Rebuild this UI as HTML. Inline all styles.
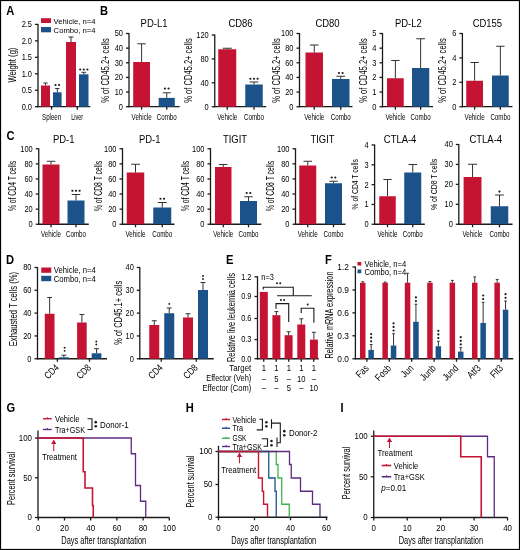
<!DOCTYPE html>
<html><head><meta charset="utf-8"><style>
html,body{margin:0;padding:0;background:#fff;width:520px;height:550px;overflow:hidden}
body{position:relative;font-family:"Liberation Sans", sans-serif}
svg text{font-family:"Liberation Sans", sans-serif}
svg{will-change:transform}
</style></head><body>
<svg width="520" height="550" viewBox="0 0 520 550" style="position:absolute;left:0;top:0" font-family="Liberation Sans, sans-serif">
<rect x="0" y="0" width="520" height="550" fill="#fff"/>
<text x="6.30" y="15.20" font-size="12" textLength="8.06" lengthAdjust="spacingAndGlyphs" font-weight="bold">A</text>
<line x1="38.00" y1="23.90" x2="38.00" y2="107.30" stroke="#1a1a1a" stroke-width="1.3"/>
<line x1="35.00" y1="106.70" x2="38.00" y2="106.70" stroke="#1a1a1a" stroke-width="1.3"/>
<text x="32.00" y="109.58" font-size="9.3" text-anchor="end" textLength="10.34" lengthAdjust="spacingAndGlyphs">0.0</text>
<line x1="35.00" y1="90.24" x2="38.00" y2="90.24" stroke="#1a1a1a" stroke-width="1.3"/>
<text x="32.00" y="93.12" font-size="9.3" text-anchor="end" textLength="10.34" lengthAdjust="spacingAndGlyphs">0.5</text>
<line x1="35.00" y1="73.78" x2="38.00" y2="73.78" stroke="#1a1a1a" stroke-width="1.3"/>
<text x="32.00" y="76.66" font-size="9.3" text-anchor="end" textLength="10.34" lengthAdjust="spacingAndGlyphs">1.0</text>
<line x1="35.00" y1="57.32" x2="38.00" y2="57.32" stroke="#1a1a1a" stroke-width="1.3"/>
<text x="32.00" y="60.20" font-size="9.3" text-anchor="end" textLength="10.34" lengthAdjust="spacingAndGlyphs">1.5</text>
<line x1="35.00" y1="40.86" x2="38.00" y2="40.86" stroke="#1a1a1a" stroke-width="1.3"/>
<text x="32.00" y="43.74" font-size="9.3" text-anchor="end" textLength="10.34" lengthAdjust="spacingAndGlyphs">2.0</text>
<line x1="35.00" y1="24.40" x2="38.00" y2="24.40" stroke="#1a1a1a" stroke-width="1.3"/>
<text x="32.00" y="27.28" font-size="9.3" text-anchor="end" textLength="10.34" lengthAdjust="spacingAndGlyphs">2.5</text>
<line x1="37.40" y1="106.70" x2="90.30" y2="106.70" stroke="#1a1a1a" stroke-width="1.3"/>
<line x1="51.60" y1="106.70" x2="51.60" y2="109.70" stroke="#1a1a1a" stroke-width="1.3"/>
<line x1="77.30" y1="106.70" x2="77.30" y2="109.70" stroke="#1a1a1a" stroke-width="1.3"/>
<rect x="41.00" y="85.50" width="9.00" height="21.20" fill="#c51433"/>
<line x1="45.50" y1="83.00" x2="45.50" y2="85.50" stroke="#333" stroke-width="1.0"/>
<line x1="43.25" y1="83.00" x2="47.75" y2="83.00" stroke="#333" stroke-width="1.0"/>
<rect x="53.00" y="92.30" width="8.60" height="14.40" fill="#1a5289"/>
<line x1="57.30" y1="88.50" x2="57.30" y2="92.30" stroke="#333" stroke-width="1.0"/>
<line x1="55.15" y1="88.50" x2="59.45" y2="88.50" stroke="#333" stroke-width="1.0"/>
<rect x="66.00" y="42.00" width="10.00" height="64.70" fill="#c51433"/>
<line x1="71.00" y1="37.00" x2="71.00" y2="42.00" stroke="#333" stroke-width="1.0"/>
<line x1="68.50" y1="37.00" x2="73.50" y2="37.00" stroke="#333" stroke-width="1.0"/>
<rect x="79.00" y="74.30" width="9.50" height="32.40" fill="#1a5289"/>
<line x1="83.75" y1="72.30" x2="83.75" y2="74.30" stroke="#333" stroke-width="1.0"/>
<line x1="81.38" y1="72.30" x2="86.12" y2="72.30" stroke="#333" stroke-width="1.0"/>
<circle cx="55.50" cy="85.00" r="1.10" fill="#1a1a1a"/>
<circle cx="59.10" cy="85.00" r="1.10" fill="#1a1a1a"/>
<circle cx="80.20" cy="69.50" r="1.10" fill="#1a1a1a"/>
<circle cx="83.80" cy="69.50" r="1.10" fill="#1a1a1a"/>
<circle cx="87.40" cy="69.50" r="1.10" fill="#1a1a1a"/>
<rect x="41.00" y="18.20" width="10.00" height="4.80" fill="#c51433"/>
<rect x="41.00" y="27.00" width="10.00" height="5.30" fill="#1a5289"/>
<text x="53.60" y="23.60" font-size="8" textLength="42.00" lengthAdjust="spacingAndGlyphs">Vehicle, n=4</text>
<text x="53.60" y="32.60" font-size="8" textLength="42.00" lengthAdjust="spacingAndGlyphs">Combo, n=4</text>
<text x="51.60" y="119.50" font-size="8.7" text-anchor="middle" textLength="19.00" lengthAdjust="spacingAndGlyphs">Spleen</text>
<text x="77.20" y="119.50" font-size="8.7" text-anchor="middle" textLength="12.00" lengthAdjust="spacingAndGlyphs">Liver</text>
<text transform="rotate(-90 15.82 65.10)" x="15.82" y="65.10" font-size="10.2" text-anchor="middle" textLength="35.00" lengthAdjust="spacingAndGlyphs">Weight (g)</text>
<text x="100.00" y="15.20" font-size="12" textLength="8.06" lengthAdjust="spacingAndGlyphs" font-weight="bold">B</text>
<line x1="129.00" y1="33.00" x2="129.00" y2="107.30" stroke="#1a1a1a" stroke-width="1.3"/>
<line x1="126.00" y1="106.70" x2="129.00" y2="106.70" stroke="#1a1a1a" stroke-width="1.3"/>
<text x="123.00" y="109.58" font-size="9.3" text-anchor="end" textLength="4.14" lengthAdjust="spacingAndGlyphs">0</text>
<line x1="126.00" y1="92.06" x2="129.00" y2="92.06" stroke="#1a1a1a" stroke-width="1.3"/>
<text x="123.00" y="94.94" font-size="9.3" text-anchor="end" textLength="8.27" lengthAdjust="spacingAndGlyphs">10</text>
<line x1="126.00" y1="77.42" x2="129.00" y2="77.42" stroke="#1a1a1a" stroke-width="1.3"/>
<text x="123.00" y="80.30" font-size="9.3" text-anchor="end" textLength="8.27" lengthAdjust="spacingAndGlyphs">20</text>
<line x1="126.00" y1="62.78" x2="129.00" y2="62.78" stroke="#1a1a1a" stroke-width="1.3"/>
<text x="123.00" y="65.66" font-size="9.3" text-anchor="end" textLength="8.27" lengthAdjust="spacingAndGlyphs">30</text>
<line x1="126.00" y1="48.14" x2="129.00" y2="48.14" stroke="#1a1a1a" stroke-width="1.3"/>
<text x="123.00" y="51.02" font-size="9.3" text-anchor="end" textLength="8.27" lengthAdjust="spacingAndGlyphs">40</text>
<line x1="126.00" y1="33.50" x2="129.00" y2="33.50" stroke="#1a1a1a" stroke-width="1.3"/>
<text x="123.00" y="36.38" font-size="9.3" text-anchor="end" textLength="8.27" lengthAdjust="spacingAndGlyphs">50</text>
<line x1="128.40" y1="106.70" x2="179.60" y2="106.70" stroke="#1a1a1a" stroke-width="1.3"/>
<line x1="141.60" y1="106.70" x2="141.60" y2="109.70" stroke="#1a1a1a" stroke-width="1.3"/>
<line x1="166.75" y1="106.70" x2="166.75" y2="109.70" stroke="#1a1a1a" stroke-width="1.3"/>
<rect x="133.20" y="62.00" width="16.80" height="44.70" fill="#c51433"/>
<line x1="141.60" y1="43.80" x2="141.60" y2="62.00" stroke="#333" stroke-width="1.0"/>
<line x1="137.40" y1="43.80" x2="145.80" y2="43.80" stroke="#333" stroke-width="1.0"/>
<rect x="158.70" y="97.90" width="16.10" height="8.80" fill="#1a5289"/>
<line x1="166.75" y1="92.80" x2="166.75" y2="97.90" stroke="#333" stroke-width="1.0"/>
<line x1="162.72" y1="92.80" x2="170.78" y2="92.80" stroke="#333" stroke-width="1.0"/>
<circle cx="164.95" cy="88.50" r="1.10" fill="#1a1a1a"/>
<circle cx="168.55" cy="88.50" r="1.10" fill="#1a1a1a"/>
<text x="141.60" y="119.50" font-size="8.7" text-anchor="middle" textLength="20.00" lengthAdjust="spacingAndGlyphs">Vehicle</text>
<text x="166.75" y="119.50" font-size="8.7" text-anchor="middle" textLength="20.00" lengthAdjust="spacingAndGlyphs">Combo</text>
<text x="154.00" y="27.00" font-size="11" text-anchor="middle" textLength="26.81" lengthAdjust="spacingAndGlyphs">PD-L1</text>
<text transform="rotate(-90 109.43 70.50)" x="109.43" y="70.50" font-size="10.5" text-anchor="middle" textLength="64.50" lengthAdjust="spacingAndGlyphs">% of CD45.2+ cells</text>
<line x1="214.75" y1="34.50" x2="214.75" y2="107.30" stroke="#1a1a1a" stroke-width="1.3"/>
<line x1="211.75" y1="106.70" x2="214.75" y2="106.70" stroke="#1a1a1a" stroke-width="1.3"/>
<text x="208.75" y="109.58" font-size="9.3" text-anchor="end" textLength="4.14" lengthAdjust="spacingAndGlyphs">0</text>
<line x1="211.75" y1="82.80" x2="214.75" y2="82.80" stroke="#1a1a1a" stroke-width="1.3"/>
<text x="208.75" y="85.68" font-size="9.3" text-anchor="end" textLength="8.27" lengthAdjust="spacingAndGlyphs">40</text>
<line x1="211.75" y1="58.90" x2="214.75" y2="58.90" stroke="#1a1a1a" stroke-width="1.3"/>
<text x="208.75" y="61.78" font-size="9.3" text-anchor="end" textLength="8.27" lengthAdjust="spacingAndGlyphs">80</text>
<line x1="211.75" y1="35.00" x2="214.75" y2="35.00" stroke="#1a1a1a" stroke-width="1.3"/>
<text x="208.75" y="37.88" font-size="9.3" text-anchor="end" textLength="12.41" lengthAdjust="spacingAndGlyphs">120</text>
<line x1="214.15" y1="106.70" x2="266.25" y2="106.70" stroke="#1a1a1a" stroke-width="1.3"/>
<line x1="227.25" y1="106.70" x2="227.25" y2="109.70" stroke="#1a1a1a" stroke-width="1.3"/>
<line x1="254.00" y1="106.70" x2="254.00" y2="109.70" stroke="#1a1a1a" stroke-width="1.3"/>
<rect x="218.25" y="49.25" width="18.00" height="57.45" fill="#c51433"/>
<line x1="227.25" y1="48.25" x2="227.25" y2="49.25" stroke="#333" stroke-width="1.0"/>
<line x1="222.75" y1="48.25" x2="231.75" y2="48.25" stroke="#333" stroke-width="1.0"/>
<rect x="245.25" y="84.50" width="17.50" height="22.20" fill="#1a5289"/>
<line x1="254.00" y1="82.00" x2="254.00" y2="84.50" stroke="#333" stroke-width="1.0"/>
<line x1="249.62" y1="82.00" x2="258.38" y2="82.00" stroke="#333" stroke-width="1.0"/>
<circle cx="250.40" cy="78.75" r="1.10" fill="#1a1a1a"/>
<circle cx="254.00" cy="78.75" r="1.10" fill="#1a1a1a"/>
<circle cx="257.60" cy="78.75" r="1.10" fill="#1a1a1a"/>
<text x="227.25" y="119.50" font-size="8.7" text-anchor="middle" textLength="20.00" lengthAdjust="spacingAndGlyphs">Vehicle</text>
<text x="254.00" y="119.50" font-size="8.7" text-anchor="middle" textLength="20.00" lengthAdjust="spacingAndGlyphs">Combo</text>
<text x="240.50" y="27.00" font-size="11" text-anchor="middle" textLength="24.19" lengthAdjust="spacingAndGlyphs">CD86</text>
<text transform="rotate(-90 191.98 70.50)" x="191.98" y="70.50" font-size="10.5" text-anchor="middle" textLength="64.50" lengthAdjust="spacingAndGlyphs">% of CD45.2+ cells</text>
<line x1="299.50" y1="33.00" x2="299.50" y2="107.30" stroke="#1a1a1a" stroke-width="1.3"/>
<line x1="296.50" y1="106.70" x2="299.50" y2="106.70" stroke="#1a1a1a" stroke-width="1.3"/>
<text x="293.50" y="109.58" font-size="9.3" text-anchor="end" textLength="4.14" lengthAdjust="spacingAndGlyphs">0</text>
<line x1="296.50" y1="92.06" x2="299.50" y2="92.06" stroke="#1a1a1a" stroke-width="1.3"/>
<text x="293.50" y="94.94" font-size="9.3" text-anchor="end" textLength="8.27" lengthAdjust="spacingAndGlyphs">20</text>
<line x1="296.50" y1="77.42" x2="299.50" y2="77.42" stroke="#1a1a1a" stroke-width="1.3"/>
<text x="293.50" y="80.30" font-size="9.3" text-anchor="end" textLength="8.27" lengthAdjust="spacingAndGlyphs">40</text>
<line x1="296.50" y1="62.78" x2="299.50" y2="62.78" stroke="#1a1a1a" stroke-width="1.3"/>
<text x="293.50" y="65.66" font-size="9.3" text-anchor="end" textLength="8.27" lengthAdjust="spacingAndGlyphs">60</text>
<line x1="296.50" y1="48.14" x2="299.50" y2="48.14" stroke="#1a1a1a" stroke-width="1.3"/>
<text x="293.50" y="51.02" font-size="9.3" text-anchor="end" textLength="8.27" lengthAdjust="spacingAndGlyphs">80</text>
<line x1="296.50" y1="33.50" x2="299.50" y2="33.50" stroke="#1a1a1a" stroke-width="1.3"/>
<text x="293.50" y="36.38" font-size="9.3" text-anchor="end" textLength="12.41" lengthAdjust="spacingAndGlyphs">100</text>
<line x1="298.90" y1="106.70" x2="352.50" y2="106.70" stroke="#1a1a1a" stroke-width="1.3"/>
<line x1="314.25" y1="106.70" x2="314.25" y2="109.70" stroke="#1a1a1a" stroke-width="1.3"/>
<line x1="340.75" y1="106.70" x2="340.75" y2="109.70" stroke="#1a1a1a" stroke-width="1.3"/>
<rect x="305.50" y="52.50" width="17.50" height="54.20" fill="#c51433"/>
<line x1="314.25" y1="45.00" x2="314.25" y2="52.50" stroke="#333" stroke-width="1.0"/>
<line x1="309.88" y1="45.00" x2="318.62" y2="45.00" stroke="#333" stroke-width="1.0"/>
<rect x="332.00" y="79.00" width="17.50" height="27.70" fill="#1a5289"/>
<line x1="340.75" y1="76.25" x2="340.75" y2="79.00" stroke="#333" stroke-width="1.0"/>
<line x1="336.38" y1="76.25" x2="345.12" y2="76.25" stroke="#333" stroke-width="1.0"/>
<circle cx="338.95" cy="73.00" r="1.10" fill="#1a1a1a"/>
<circle cx="342.55" cy="73.00" r="1.10" fill="#1a1a1a"/>
<text x="314.25" y="119.50" font-size="8.7" text-anchor="middle" textLength="20.00" lengthAdjust="spacingAndGlyphs">Vehicle</text>
<text x="340.75" y="119.50" font-size="8.7" text-anchor="middle" textLength="20.00" lengthAdjust="spacingAndGlyphs">Combo</text>
<text x="327.50" y="27.00" font-size="11" text-anchor="middle" textLength="24.19" lengthAdjust="spacingAndGlyphs">CD80</text>
<text transform="rotate(-90 279.73 70.50)" x="279.73" y="70.50" font-size="10.5" text-anchor="middle" textLength="64.50" lengthAdjust="spacingAndGlyphs">% of CD45.2+ cells</text>
<line x1="382.50" y1="33.00" x2="382.50" y2="107.30" stroke="#1a1a1a" stroke-width="1.3"/>
<line x1="379.50" y1="106.70" x2="382.50" y2="106.70" stroke="#1a1a1a" stroke-width="1.3"/>
<text x="376.50" y="109.58" font-size="9.3" text-anchor="end" textLength="4.14" lengthAdjust="spacingAndGlyphs">0</text>
<line x1="379.50" y1="92.06" x2="382.50" y2="92.06" stroke="#1a1a1a" stroke-width="1.3"/>
<text x="376.50" y="94.94" font-size="9.3" text-anchor="end" textLength="4.14" lengthAdjust="spacingAndGlyphs">1</text>
<line x1="379.50" y1="77.42" x2="382.50" y2="77.42" stroke="#1a1a1a" stroke-width="1.3"/>
<text x="376.50" y="80.30" font-size="9.3" text-anchor="end" textLength="4.14" lengthAdjust="spacingAndGlyphs">2</text>
<line x1="379.50" y1="62.78" x2="382.50" y2="62.78" stroke="#1a1a1a" stroke-width="1.3"/>
<text x="376.50" y="65.66" font-size="9.3" text-anchor="end" textLength="4.14" lengthAdjust="spacingAndGlyphs">3</text>
<line x1="379.50" y1="48.14" x2="382.50" y2="48.14" stroke="#1a1a1a" stroke-width="1.3"/>
<text x="376.50" y="51.02" font-size="9.3" text-anchor="end" textLength="4.14" lengthAdjust="spacingAndGlyphs">4</text>
<line x1="379.50" y1="33.50" x2="382.50" y2="33.50" stroke="#1a1a1a" stroke-width="1.3"/>
<text x="376.50" y="36.38" font-size="9.3" text-anchor="end" textLength="4.14" lengthAdjust="spacingAndGlyphs">5</text>
<line x1="381.90" y1="106.70" x2="433.00" y2="106.70" stroke="#1a1a1a" stroke-width="1.3"/>
<line x1="395.38" y1="106.70" x2="395.38" y2="109.70" stroke="#1a1a1a" stroke-width="1.3"/>
<line x1="420.62" y1="106.70" x2="420.62" y2="109.70" stroke="#1a1a1a" stroke-width="1.3"/>
<rect x="387.00" y="78.25" width="16.75" height="28.45" fill="#c51433"/>
<line x1="395.38" y1="60.50" x2="395.38" y2="78.25" stroke="#333" stroke-width="1.0"/>
<line x1="391.19" y1="60.50" x2="399.56" y2="60.50" stroke="#333" stroke-width="1.0"/>
<rect x="412.00" y="68.00" width="17.25" height="38.70" fill="#1a5289"/>
<line x1="420.62" y1="38.75" x2="420.62" y2="68.00" stroke="#333" stroke-width="1.0"/>
<line x1="416.31" y1="38.75" x2="424.94" y2="38.75" stroke="#333" stroke-width="1.0"/>
<text x="395.38" y="119.50" font-size="8.7" text-anchor="middle" textLength="20.00" lengthAdjust="spacingAndGlyphs">Vehicle</text>
<text x="420.62" y="119.50" font-size="8.7" text-anchor="middle" textLength="20.00" lengthAdjust="spacingAndGlyphs">Combo</text>
<text x="408.40" y="27.00" font-size="11" text-anchor="middle" textLength="26.81" lengthAdjust="spacingAndGlyphs">PD-L2</text>
<text transform="rotate(-90 366.58 70.50)" x="366.58" y="70.50" font-size="10.5" text-anchor="middle" textLength="64.50" lengthAdjust="spacingAndGlyphs">% of CD45.2+ cells</text>
<line x1="462.40" y1="33.00" x2="462.40" y2="107.30" stroke="#1a1a1a" stroke-width="1.3"/>
<line x1="459.40" y1="106.70" x2="462.40" y2="106.70" stroke="#1a1a1a" stroke-width="1.3"/>
<text x="456.40" y="109.58" font-size="9.3" text-anchor="end" textLength="4.14" lengthAdjust="spacingAndGlyphs">0</text>
<line x1="459.40" y1="82.30" x2="462.40" y2="82.30" stroke="#1a1a1a" stroke-width="1.3"/>
<text x="456.40" y="85.18" font-size="9.3" text-anchor="end" textLength="4.14" lengthAdjust="spacingAndGlyphs">2</text>
<line x1="459.40" y1="57.90" x2="462.40" y2="57.90" stroke="#1a1a1a" stroke-width="1.3"/>
<text x="456.40" y="60.78" font-size="9.3" text-anchor="end" textLength="4.14" lengthAdjust="spacingAndGlyphs">4</text>
<line x1="459.40" y1="33.50" x2="462.40" y2="33.50" stroke="#1a1a1a" stroke-width="1.3"/>
<text x="456.40" y="36.38" font-size="9.3" text-anchor="end" textLength="4.14" lengthAdjust="spacingAndGlyphs">6</text>
<line x1="461.80" y1="106.70" x2="512.50" y2="106.70" stroke="#1a1a1a" stroke-width="1.3"/>
<line x1="474.62" y1="106.70" x2="474.62" y2="109.70" stroke="#1a1a1a" stroke-width="1.3"/>
<line x1="500.38" y1="106.70" x2="500.38" y2="109.70" stroke="#1a1a1a" stroke-width="1.3"/>
<rect x="466.25" y="80.75" width="16.75" height="25.95" fill="#c51433"/>
<line x1="474.62" y1="62.50" x2="474.62" y2="80.75" stroke="#333" stroke-width="1.0"/>
<line x1="470.44" y1="62.50" x2="478.81" y2="62.50" stroke="#333" stroke-width="1.0"/>
<rect x="492.00" y="75.50" width="16.75" height="31.20" fill="#1a5289"/>
<line x1="500.38" y1="46.25" x2="500.38" y2="75.50" stroke="#333" stroke-width="1.0"/>
<line x1="496.19" y1="46.25" x2="504.56" y2="46.25" stroke="#333" stroke-width="1.0"/>
<text x="474.62" y="119.50" font-size="8.7" text-anchor="middle" textLength="20.00" lengthAdjust="spacingAndGlyphs">Vehicle</text>
<text x="500.38" y="119.50" font-size="8.7" text-anchor="middle" textLength="20.00" lengthAdjust="spacingAndGlyphs">Combo</text>
<text x="487.40" y="27.00" font-size="11" text-anchor="middle" textLength="29.45" lengthAdjust="spacingAndGlyphs">CD155</text>
<text transform="rotate(-90 445.93 70.50)" x="445.93" y="70.50" font-size="10.5" text-anchor="middle" textLength="64.50" lengthAdjust="spacingAndGlyphs">% of CD45.2+ cells</text>
<text x="6.60" y="140.20" font-size="12" textLength="8.06" lengthAdjust="spacingAndGlyphs" font-weight="bold">C</text>
<line x1="38.75" y1="148.25" x2="38.75" y2="224.85" stroke="#1a1a1a" stroke-width="1.3"/>
<line x1="35.75" y1="224.25" x2="38.75" y2="224.25" stroke="#1a1a1a" stroke-width="1.3"/>
<text x="32.75" y="227.13" font-size="9.3" text-anchor="end" textLength="4.14" lengthAdjust="spacingAndGlyphs">0</text>
<line x1="35.75" y1="209.15" x2="38.75" y2="209.15" stroke="#1a1a1a" stroke-width="1.3"/>
<text x="32.75" y="212.03" font-size="9.3" text-anchor="end" textLength="8.27" lengthAdjust="spacingAndGlyphs">20</text>
<line x1="35.75" y1="194.05" x2="38.75" y2="194.05" stroke="#1a1a1a" stroke-width="1.3"/>
<text x="32.75" y="196.93" font-size="9.3" text-anchor="end" textLength="8.27" lengthAdjust="spacingAndGlyphs">40</text>
<line x1="35.75" y1="178.95" x2="38.75" y2="178.95" stroke="#1a1a1a" stroke-width="1.3"/>
<text x="32.75" y="181.83" font-size="9.3" text-anchor="end" textLength="8.27" lengthAdjust="spacingAndGlyphs">60</text>
<line x1="35.75" y1="163.85" x2="38.75" y2="163.85" stroke="#1a1a1a" stroke-width="1.3"/>
<text x="32.75" y="166.73" font-size="9.3" text-anchor="end" textLength="8.27" lengthAdjust="spacingAndGlyphs">80</text>
<line x1="35.75" y1="148.75" x2="38.75" y2="148.75" stroke="#1a1a1a" stroke-width="1.3"/>
<text x="32.75" y="151.63" font-size="9.3" text-anchor="end" textLength="12.41" lengthAdjust="spacingAndGlyphs">100</text>
<line x1="38.15" y1="224.25" x2="88.75" y2="224.25" stroke="#1a1a1a" stroke-width="1.3"/>
<line x1="51.00" y1="224.25" x2="51.00" y2="227.25" stroke="#1a1a1a" stroke-width="1.3"/>
<line x1="76.00" y1="224.25" x2="76.00" y2="227.25" stroke="#1a1a1a" stroke-width="1.3"/>
<rect x="42.50" y="164.50" width="17.00" height="59.75" fill="#c51433"/>
<line x1="51.00" y1="161.25" x2="51.00" y2="164.50" stroke="#333" stroke-width="1.0"/>
<line x1="46.75" y1="161.25" x2="55.25" y2="161.25" stroke="#333" stroke-width="1.0"/>
<rect x="67.50" y="200.50" width="17.00" height="23.75" fill="#1a5289"/>
<line x1="76.00" y1="194.50" x2="76.00" y2="200.50" stroke="#333" stroke-width="1.0"/>
<line x1="71.75" y1="194.50" x2="80.25" y2="194.50" stroke="#333" stroke-width="1.0"/>
<circle cx="72.40" cy="190.75" r="1.10" fill="#1a1a1a"/>
<circle cx="76.00" cy="190.75" r="1.10" fill="#1a1a1a"/>
<circle cx="79.60" cy="190.75" r="1.10" fill="#1a1a1a"/>
<text x="51.00" y="236.50" font-size="8.7" text-anchor="middle" textLength="20.00" lengthAdjust="spacingAndGlyphs">Vehicle</text>
<text x="76.00" y="236.50" font-size="8.7" text-anchor="middle" textLength="20.00" lengthAdjust="spacingAndGlyphs">Combo</text>
<text x="63.75" y="142.60" font-size="11" text-anchor="middle" textLength="21.55" lengthAdjust="spacingAndGlyphs">PD-1</text>
<text transform="rotate(-90 15.90 186.00)" x="15.90" y="186.00" font-size="10" text-anchor="middle" textLength="50.20" lengthAdjust="spacingAndGlyphs">% of CD4 T cells</text>
<line x1="122.50" y1="148.25" x2="122.50" y2="224.85" stroke="#1a1a1a" stroke-width="1.3"/>
<line x1="119.50" y1="224.25" x2="122.50" y2="224.25" stroke="#1a1a1a" stroke-width="1.3"/>
<text x="116.50" y="227.13" font-size="9.3" text-anchor="end" textLength="4.14" lengthAdjust="spacingAndGlyphs">0</text>
<line x1="119.50" y1="209.15" x2="122.50" y2="209.15" stroke="#1a1a1a" stroke-width="1.3"/>
<text x="116.50" y="212.03" font-size="9.3" text-anchor="end" textLength="8.27" lengthAdjust="spacingAndGlyphs">20</text>
<line x1="119.50" y1="194.05" x2="122.50" y2="194.05" stroke="#1a1a1a" stroke-width="1.3"/>
<text x="116.50" y="196.93" font-size="9.3" text-anchor="end" textLength="8.27" lengthAdjust="spacingAndGlyphs">40</text>
<line x1="119.50" y1="178.95" x2="122.50" y2="178.95" stroke="#1a1a1a" stroke-width="1.3"/>
<text x="116.50" y="181.83" font-size="9.3" text-anchor="end" textLength="8.27" lengthAdjust="spacingAndGlyphs">60</text>
<line x1="119.50" y1="163.85" x2="122.50" y2="163.85" stroke="#1a1a1a" stroke-width="1.3"/>
<text x="116.50" y="166.73" font-size="9.3" text-anchor="end" textLength="8.27" lengthAdjust="spacingAndGlyphs">80</text>
<line x1="119.50" y1="148.75" x2="122.50" y2="148.75" stroke="#1a1a1a" stroke-width="1.3"/>
<text x="116.50" y="151.63" font-size="9.3" text-anchor="end" textLength="12.41" lengthAdjust="spacingAndGlyphs">100</text>
<line x1="121.90" y1="224.25" x2="174.50" y2="224.25" stroke="#1a1a1a" stroke-width="1.3"/>
<line x1="135.50" y1="224.25" x2="135.50" y2="227.25" stroke="#1a1a1a" stroke-width="1.3"/>
<line x1="162.25" y1="224.25" x2="162.25" y2="227.25" stroke="#1a1a1a" stroke-width="1.3"/>
<rect x="126.75" y="172.50" width="17.50" height="51.75" fill="#c51433"/>
<line x1="135.50" y1="164.25" x2="135.50" y2="172.50" stroke="#333" stroke-width="1.0"/>
<line x1="131.12" y1="164.25" x2="139.88" y2="164.25" stroke="#333" stroke-width="1.0"/>
<rect x="153.25" y="207.50" width="18.00" height="16.75" fill="#1a5289"/>
<line x1="162.25" y1="202.50" x2="162.25" y2="207.50" stroke="#333" stroke-width="1.0"/>
<line x1="157.75" y1="202.50" x2="166.75" y2="202.50" stroke="#333" stroke-width="1.0"/>
<circle cx="160.45" cy="198.75" r="1.10" fill="#1a1a1a"/>
<circle cx="164.05" cy="198.75" r="1.10" fill="#1a1a1a"/>
<text x="135.50" y="236.50" font-size="8.7" text-anchor="middle" textLength="20.00" lengthAdjust="spacingAndGlyphs">Vehicle</text>
<text x="162.25" y="236.50" font-size="8.7" text-anchor="middle" textLength="20.00" lengthAdjust="spacingAndGlyphs">Combo</text>
<text x="149.75" y="142.60" font-size="11" text-anchor="middle" textLength="21.55" lengthAdjust="spacingAndGlyphs">PD-1</text>
<text transform="rotate(-90 101.90 186.00)" x="101.90" y="186.00" font-size="10" text-anchor="middle" textLength="50.20" lengthAdjust="spacingAndGlyphs">% of CD8 T cells</text>
<line x1="210.50" y1="148.25" x2="210.50" y2="224.85" stroke="#1a1a1a" stroke-width="1.3"/>
<line x1="207.50" y1="224.25" x2="210.50" y2="224.25" stroke="#1a1a1a" stroke-width="1.3"/>
<text x="204.50" y="227.13" font-size="9.3" text-anchor="end" textLength="4.14" lengthAdjust="spacingAndGlyphs">0</text>
<line x1="207.50" y1="209.15" x2="210.50" y2="209.15" stroke="#1a1a1a" stroke-width="1.3"/>
<text x="204.50" y="212.03" font-size="9.3" text-anchor="end" textLength="8.27" lengthAdjust="spacingAndGlyphs">20</text>
<line x1="207.50" y1="194.05" x2="210.50" y2="194.05" stroke="#1a1a1a" stroke-width="1.3"/>
<text x="204.50" y="196.93" font-size="9.3" text-anchor="end" textLength="8.27" lengthAdjust="spacingAndGlyphs">40</text>
<line x1="207.50" y1="178.95" x2="210.50" y2="178.95" stroke="#1a1a1a" stroke-width="1.3"/>
<text x="204.50" y="181.83" font-size="9.3" text-anchor="end" textLength="8.27" lengthAdjust="spacingAndGlyphs">60</text>
<line x1="207.50" y1="163.85" x2="210.50" y2="163.85" stroke="#1a1a1a" stroke-width="1.3"/>
<text x="204.50" y="166.73" font-size="9.3" text-anchor="end" textLength="8.27" lengthAdjust="spacingAndGlyphs">80</text>
<line x1="207.50" y1="148.75" x2="210.50" y2="148.75" stroke="#1a1a1a" stroke-width="1.3"/>
<text x="204.50" y="151.63" font-size="9.3" text-anchor="end" textLength="12.41" lengthAdjust="spacingAndGlyphs">100</text>
<line x1="209.90" y1="224.25" x2="261.25" y2="224.25" stroke="#1a1a1a" stroke-width="1.3"/>
<line x1="223.25" y1="224.25" x2="223.25" y2="227.25" stroke="#1a1a1a" stroke-width="1.3"/>
<line x1="248.50" y1="224.25" x2="248.50" y2="227.25" stroke="#1a1a1a" stroke-width="1.3"/>
<rect x="215.00" y="167.00" width="16.50" height="57.25" fill="#c51433"/>
<line x1="223.25" y1="164.50" x2="223.25" y2="167.00" stroke="#333" stroke-width="1.0"/>
<line x1="219.12" y1="164.50" x2="227.38" y2="164.50" stroke="#333" stroke-width="1.0"/>
<rect x="240.00" y="201.00" width="17.00" height="23.25" fill="#1a5289"/>
<line x1="248.50" y1="196.75" x2="248.50" y2="201.00" stroke="#333" stroke-width="1.0"/>
<line x1="244.25" y1="196.75" x2="252.75" y2="196.75" stroke="#333" stroke-width="1.0"/>
<circle cx="246.70" cy="193.00" r="1.10" fill="#1a1a1a"/>
<circle cx="250.30" cy="193.00" r="1.10" fill="#1a1a1a"/>
<text x="223.25" y="236.50" font-size="8.7" text-anchor="middle" textLength="20.00" lengthAdjust="spacingAndGlyphs">Vehicle</text>
<text x="248.50" y="236.50" font-size="8.7" text-anchor="middle" textLength="20.00" lengthAdjust="spacingAndGlyphs">Combo</text>
<text x="235.00" y="142.60" font-size="11" text-anchor="middle" textLength="24.17" lengthAdjust="spacingAndGlyphs">TIGIT</text>
<text transform="rotate(-90 188.80 186.00)" x="188.80" y="186.00" font-size="10" text-anchor="middle" textLength="50.20" lengthAdjust="spacingAndGlyphs">% of CD4 T cells</text>
<line x1="295.50" y1="148.25" x2="295.50" y2="224.85" stroke="#1a1a1a" stroke-width="1.3"/>
<line x1="292.50" y1="224.25" x2="295.50" y2="224.25" stroke="#1a1a1a" stroke-width="1.3"/>
<text x="289.50" y="227.13" font-size="9.3" text-anchor="end" textLength="4.14" lengthAdjust="spacingAndGlyphs">0</text>
<line x1="292.50" y1="209.15" x2="295.50" y2="209.15" stroke="#1a1a1a" stroke-width="1.3"/>
<text x="289.50" y="212.03" font-size="9.3" text-anchor="end" textLength="8.27" lengthAdjust="spacingAndGlyphs">20</text>
<line x1="292.50" y1="194.05" x2="295.50" y2="194.05" stroke="#1a1a1a" stroke-width="1.3"/>
<text x="289.50" y="196.93" font-size="9.3" text-anchor="end" textLength="8.27" lengthAdjust="spacingAndGlyphs">40</text>
<line x1="292.50" y1="178.95" x2="295.50" y2="178.95" stroke="#1a1a1a" stroke-width="1.3"/>
<text x="289.50" y="181.83" font-size="9.3" text-anchor="end" textLength="8.27" lengthAdjust="spacingAndGlyphs">60</text>
<line x1="292.50" y1="163.85" x2="295.50" y2="163.85" stroke="#1a1a1a" stroke-width="1.3"/>
<text x="289.50" y="166.73" font-size="9.3" text-anchor="end" textLength="8.27" lengthAdjust="spacingAndGlyphs">80</text>
<line x1="292.50" y1="148.75" x2="295.50" y2="148.75" stroke="#1a1a1a" stroke-width="1.3"/>
<text x="289.50" y="151.63" font-size="9.3" text-anchor="end" textLength="12.41" lengthAdjust="spacingAndGlyphs">100</text>
<line x1="294.90" y1="224.25" x2="345.50" y2="224.25" stroke="#1a1a1a" stroke-width="1.3"/>
<line x1="307.75" y1="224.25" x2="307.75" y2="227.25" stroke="#1a1a1a" stroke-width="1.3"/>
<line x1="333.50" y1="224.25" x2="333.50" y2="227.25" stroke="#1a1a1a" stroke-width="1.3"/>
<rect x="299.25" y="165.50" width="17.00" height="58.75" fill="#c51433"/>
<line x1="307.75" y1="161.25" x2="307.75" y2="165.50" stroke="#333" stroke-width="1.0"/>
<line x1="303.50" y1="161.25" x2="312.00" y2="161.25" stroke="#333" stroke-width="1.0"/>
<rect x="325.00" y="183.25" width="17.00" height="41.00" fill="#1a5289"/>
<line x1="333.50" y1="181.25" x2="333.50" y2="183.25" stroke="#333" stroke-width="1.0"/>
<line x1="329.25" y1="181.25" x2="337.75" y2="181.25" stroke="#333" stroke-width="1.0"/>
<circle cx="331.70" cy="177.50" r="1.10" fill="#1a1a1a"/>
<circle cx="335.30" cy="177.50" r="1.10" fill="#1a1a1a"/>
<text x="307.75" y="236.50" font-size="8.7" text-anchor="middle" textLength="20.00" lengthAdjust="spacingAndGlyphs">Vehicle</text>
<text x="333.50" y="236.50" font-size="8.7" text-anchor="middle" textLength="20.00" lengthAdjust="spacingAndGlyphs">Combo</text>
<text x="322.50" y="142.60" font-size="11" text-anchor="middle" textLength="24.17" lengthAdjust="spacingAndGlyphs">TIGIT</text>
<text transform="rotate(-90 273.80 186.00)" x="273.80" y="186.00" font-size="10" text-anchor="middle" textLength="50.20" lengthAdjust="spacingAndGlyphs">% of CD8 T cells</text>
<line x1="374.60" y1="144.50" x2="374.60" y2="224.85" stroke="#1a1a1a" stroke-width="1.3"/>
<line x1="371.60" y1="224.25" x2="374.60" y2="224.25" stroke="#1a1a1a" stroke-width="1.3"/>
<text x="368.60" y="227.13" font-size="9.3" text-anchor="end" textLength="4.14" lengthAdjust="spacingAndGlyphs">0</text>
<line x1="371.60" y1="204.44" x2="374.60" y2="204.44" stroke="#1a1a1a" stroke-width="1.3"/>
<text x="368.60" y="207.32" font-size="9.3" text-anchor="end" textLength="4.14" lengthAdjust="spacingAndGlyphs">1</text>
<line x1="371.60" y1="184.62" x2="374.60" y2="184.62" stroke="#1a1a1a" stroke-width="1.3"/>
<text x="368.60" y="187.51" font-size="9.3" text-anchor="end" textLength="4.14" lengthAdjust="spacingAndGlyphs">2</text>
<line x1="371.60" y1="164.81" x2="374.60" y2="164.81" stroke="#1a1a1a" stroke-width="1.3"/>
<text x="368.60" y="167.70" font-size="9.3" text-anchor="end" textLength="4.14" lengthAdjust="spacingAndGlyphs">3</text>
<line x1="371.60" y1="145.00" x2="374.60" y2="145.00" stroke="#1a1a1a" stroke-width="1.3"/>
<text x="368.60" y="147.88" font-size="9.3" text-anchor="end" textLength="4.14" lengthAdjust="spacingAndGlyphs">4</text>
<line x1="374.00" y1="224.25" x2="424.80" y2="224.25" stroke="#1a1a1a" stroke-width="1.3"/>
<line x1="387.50" y1="224.25" x2="387.50" y2="227.25" stroke="#1a1a1a" stroke-width="1.3"/>
<line x1="412.75" y1="224.25" x2="412.75" y2="227.25" stroke="#1a1a1a" stroke-width="1.3"/>
<rect x="379.25" y="196.25" width="16.50" height="28.00" fill="#c51433"/>
<line x1="387.50" y1="179.50" x2="387.50" y2="196.25" stroke="#333" stroke-width="1.0"/>
<line x1="383.38" y1="179.50" x2="391.62" y2="179.50" stroke="#333" stroke-width="1.0"/>
<rect x="404.25" y="172.50" width="17.00" height="51.75" fill="#1a5289"/>
<line x1="412.75" y1="164.50" x2="412.75" y2="172.50" stroke="#333" stroke-width="1.0"/>
<line x1="408.50" y1="164.50" x2="417.00" y2="164.50" stroke="#333" stroke-width="1.0"/>
<text x="387.50" y="236.50" font-size="8.7" text-anchor="middle" textLength="20.00" lengthAdjust="spacingAndGlyphs">Vehicle</text>
<text x="412.75" y="236.50" font-size="8.7" text-anchor="middle" textLength="20.00" lengthAdjust="spacingAndGlyphs">Combo</text>
<text x="400.10" y="142.60" font-size="11" text-anchor="middle" textLength="32.59" lengthAdjust="spacingAndGlyphs">CTLA-4</text>
<text transform="rotate(-90 358.19 184.30)" x="358.19" y="184.30" font-size="9" text-anchor="middle" textLength="50.20" lengthAdjust="spacingAndGlyphs">% of CD4 T cells</text>
<line x1="458.80" y1="144.00" x2="458.80" y2="224.85" stroke="#1a1a1a" stroke-width="1.3"/>
<line x1="455.80" y1="224.25" x2="458.80" y2="224.25" stroke="#1a1a1a" stroke-width="1.3"/>
<text x="452.80" y="227.13" font-size="9.3" text-anchor="end" textLength="4.14" lengthAdjust="spacingAndGlyphs">0</text>
<line x1="455.80" y1="204.31" x2="458.80" y2="204.31" stroke="#1a1a1a" stroke-width="1.3"/>
<text x="452.80" y="207.20" font-size="9.3" text-anchor="end" textLength="8.27" lengthAdjust="spacingAndGlyphs">10</text>
<line x1="455.80" y1="184.38" x2="458.80" y2="184.38" stroke="#1a1a1a" stroke-width="1.3"/>
<text x="452.80" y="187.26" font-size="9.3" text-anchor="end" textLength="8.27" lengthAdjust="spacingAndGlyphs">20</text>
<line x1="455.80" y1="164.44" x2="458.80" y2="164.44" stroke="#1a1a1a" stroke-width="1.3"/>
<text x="452.80" y="167.32" font-size="9.3" text-anchor="end" textLength="8.27" lengthAdjust="spacingAndGlyphs">30</text>
<line x1="455.80" y1="144.50" x2="458.80" y2="144.50" stroke="#1a1a1a" stroke-width="1.3"/>
<text x="452.80" y="147.38" font-size="9.3" text-anchor="end" textLength="8.27" lengthAdjust="spacingAndGlyphs">40</text>
<line x1="458.20" y1="224.25" x2="512.50" y2="224.25" stroke="#1a1a1a" stroke-width="1.3"/>
<line x1="472.55" y1="224.25" x2="472.55" y2="227.25" stroke="#1a1a1a" stroke-width="1.3"/>
<line x1="499.50" y1="224.25" x2="499.50" y2="227.25" stroke="#1a1a1a" stroke-width="1.3"/>
<rect x="463.60" y="177.00" width="17.90" height="47.25" fill="#c51433"/>
<line x1="472.55" y1="164.25" x2="472.55" y2="177.00" stroke="#333" stroke-width="1.0"/>
<line x1="468.08" y1="164.25" x2="477.02" y2="164.25" stroke="#333" stroke-width="1.0"/>
<rect x="490.75" y="206.25" width="17.50" height="18.00" fill="#1a5289"/>
<line x1="499.50" y1="195.00" x2="499.50" y2="206.25" stroke="#333" stroke-width="1.0"/>
<line x1="495.12" y1="195.00" x2="503.88" y2="195.00" stroke="#333" stroke-width="1.0"/>
<circle cx="499.50" cy="191.60" r="1.10" fill="#1a1a1a"/>
<text x="472.55" y="236.50" font-size="8.7" text-anchor="middle" textLength="20.00" lengthAdjust="spacingAndGlyphs">Vehicle</text>
<text x="499.50" y="236.50" font-size="8.7" text-anchor="middle" textLength="20.00" lengthAdjust="spacingAndGlyphs">Combo</text>
<text x="485.80" y="142.60" font-size="11" text-anchor="middle" textLength="32.59" lengthAdjust="spacingAndGlyphs">CTLA-4</text>
<text transform="rotate(-90 436.89 184.40)" x="436.89" y="184.40" font-size="9" text-anchor="middle" textLength="51.20" lengthAdjust="spacingAndGlyphs">% of CD8 T cells</text>
<text x="6.00" y="264.20" font-size="12" textLength="8.06" lengthAdjust="spacingAndGlyphs" font-weight="bold">D</text>
<line x1="37.50" y1="267.00" x2="37.50" y2="359.35" stroke="#1a1a1a" stroke-width="1.3"/>
<line x1="34.50" y1="358.75" x2="37.50" y2="358.75" stroke="#1a1a1a" stroke-width="1.3"/>
<text x="31.50" y="361.63" font-size="9.3" text-anchor="end" textLength="4.14" lengthAdjust="spacingAndGlyphs">0</text>
<line x1="34.50" y1="335.94" x2="37.50" y2="335.94" stroke="#1a1a1a" stroke-width="1.3"/>
<text x="31.50" y="338.82" font-size="9.3" text-anchor="end" textLength="8.27" lengthAdjust="spacingAndGlyphs">20</text>
<line x1="34.50" y1="313.12" x2="37.50" y2="313.12" stroke="#1a1a1a" stroke-width="1.3"/>
<text x="31.50" y="316.01" font-size="9.3" text-anchor="end" textLength="8.27" lengthAdjust="spacingAndGlyphs">40</text>
<line x1="34.50" y1="290.31" x2="37.50" y2="290.31" stroke="#1a1a1a" stroke-width="1.3"/>
<text x="31.50" y="293.20" font-size="9.3" text-anchor="end" textLength="8.27" lengthAdjust="spacingAndGlyphs">60</text>
<line x1="34.50" y1="267.50" x2="37.50" y2="267.50" stroke="#1a1a1a" stroke-width="1.3"/>
<text x="31.50" y="270.38" font-size="9.3" text-anchor="end" textLength="8.27" lengthAdjust="spacingAndGlyphs">80</text>
<line x1="36.90" y1="358.75" x2="107.00" y2="358.75" stroke="#1a1a1a" stroke-width="1.3"/>
<line x1="57.40" y1="358.75" x2="57.40" y2="361.75" stroke="#1a1a1a" stroke-width="1.3"/>
<line x1="89.50" y1="358.75" x2="89.50" y2="361.75" stroke="#1a1a1a" stroke-width="1.3"/>
<rect x="44.80" y="313.75" width="9.70" height="45.00" fill="#c51433"/>
<line x1="49.65" y1="297.50" x2="49.65" y2="313.75" stroke="#333" stroke-width="1.0"/>
<line x1="47.22" y1="297.50" x2="52.08" y2="297.50" stroke="#333" stroke-width="1.0"/>
<rect x="58.80" y="357.30" width="10.10" height="1.45" fill="#1a5289"/>
<line x1="63.85" y1="355.20" x2="63.85" y2="357.30" stroke="#333" stroke-width="1.0"/>
<line x1="61.33" y1="355.20" x2="66.38" y2="355.20" stroke="#333" stroke-width="1.0"/>
<rect x="77.10" y="322.50" width="9.60" height="36.25" fill="#c51433"/>
<line x1="81.90" y1="314.50" x2="81.90" y2="322.50" stroke="#333" stroke-width="1.0"/>
<line x1="79.50" y1="314.50" x2="84.30" y2="314.50" stroke="#333" stroke-width="1.0"/>
<rect x="91.70" y="353.30" width="9.70" height="5.45" fill="#1a5289"/>
<line x1="96.55" y1="348.70" x2="96.55" y2="353.30" stroke="#333" stroke-width="1.0"/>
<line x1="94.13" y1="348.70" x2="98.98" y2="348.70" stroke="#333" stroke-width="1.0"/>
<circle cx="64.60" cy="347.77" r="0.94" fill="#1a1a1a"/>
<circle cx="64.60" cy="350.83" r="0.94" fill="#1a1a1a"/>
<circle cx="96.30" cy="341.47" r="0.94" fill="#1a1a1a"/>
<circle cx="96.30" cy="344.53" r="0.94" fill="#1a1a1a"/>
<rect x="41.25" y="267.50" width="10.00" height="5.30" fill="#c51433"/>
<rect x="41.25" y="275.80" width="10.00" height="5.40" fill="#1a5289"/>
<text x="53.75" y="273.00" font-size="8.4" textLength="42.00" lengthAdjust="spacingAndGlyphs">Vehicle, n=4</text>
<text x="53.75" y="281.50" font-size="8.4" textLength="42.00" lengthAdjust="spacingAndGlyphs">Combo, n=4</text>
<text transform="rotate(-90 17.40 309.10)" x="17.40" y="309.10" font-size="10" text-anchor="middle" textLength="74.50" lengthAdjust="spacingAndGlyphs">Exhausted T cells (%)</text>
<text transform="rotate(-45 59.60 368.25)" x="59.60" y="368.25" font-size="10" text-anchor="end" textLength="16.00" lengthAdjust="spacingAndGlyphs">CD4</text>
<text transform="rotate(-45 91.70 368.25)" x="91.70" y="368.25" font-size="10" text-anchor="end" textLength="16.00" lengthAdjust="spacingAndGlyphs">CD8</text>
<line x1="139.80" y1="267.00" x2="139.80" y2="359.35" stroke="#1a1a1a" stroke-width="1.3"/>
<line x1="136.80" y1="358.75" x2="139.80" y2="358.75" stroke="#1a1a1a" stroke-width="1.3"/>
<text x="133.80" y="361.63" font-size="9.3" text-anchor="end" textLength="4.14" lengthAdjust="spacingAndGlyphs">0</text>
<line x1="136.80" y1="335.94" x2="139.80" y2="335.94" stroke="#1a1a1a" stroke-width="1.3"/>
<text x="133.80" y="338.82" font-size="9.3" text-anchor="end" textLength="8.27" lengthAdjust="spacingAndGlyphs">10</text>
<line x1="136.80" y1="313.12" x2="139.80" y2="313.12" stroke="#1a1a1a" stroke-width="1.3"/>
<text x="133.80" y="316.01" font-size="9.3" text-anchor="end" textLength="8.27" lengthAdjust="spacingAndGlyphs">20</text>
<line x1="136.80" y1="290.31" x2="139.80" y2="290.31" stroke="#1a1a1a" stroke-width="1.3"/>
<text x="133.80" y="293.20" font-size="9.3" text-anchor="end" textLength="8.27" lengthAdjust="spacingAndGlyphs">30</text>
<line x1="136.80" y1="267.50" x2="139.80" y2="267.50" stroke="#1a1a1a" stroke-width="1.3"/>
<text x="133.80" y="270.38" font-size="9.3" text-anchor="end" textLength="8.27" lengthAdjust="spacingAndGlyphs">40</text>
<line x1="139.20" y1="358.75" x2="213.75" y2="358.75" stroke="#1a1a1a" stroke-width="1.3"/>
<line x1="161.25" y1="358.75" x2="161.25" y2="361.75" stroke="#1a1a1a" stroke-width="1.3"/>
<line x1="196.25" y1="358.75" x2="196.25" y2="361.75" stroke="#1a1a1a" stroke-width="1.3"/>
<rect x="149.25" y="325.00" width="10.00" height="33.75" fill="#c51433"/>
<line x1="154.25" y1="320.75" x2="154.25" y2="325.00" stroke="#333" stroke-width="1.0"/>
<line x1="151.75" y1="320.75" x2="156.75" y2="320.75" stroke="#333" stroke-width="1.0"/>
<rect x="164.25" y="313.25" width="10.00" height="45.50" fill="#1a5289"/>
<line x1="169.25" y1="308.00" x2="169.25" y2="313.25" stroke="#333" stroke-width="1.0"/>
<line x1="166.75" y1="308.00" x2="171.75" y2="308.00" stroke="#333" stroke-width="1.0"/>
<rect x="183.00" y="317.50" width="10.00" height="41.25" fill="#c51433"/>
<line x1="188.00" y1="313.75" x2="188.00" y2="317.50" stroke="#333" stroke-width="1.0"/>
<line x1="185.50" y1="313.75" x2="190.50" y2="313.75" stroke="#333" stroke-width="1.0"/>
<rect x="198.00" y="290.00" width="10.00" height="68.75" fill="#1a5289"/>
<line x1="203.00" y1="282.50" x2="203.00" y2="290.00" stroke="#333" stroke-width="1.0"/>
<line x1="200.50" y1="282.50" x2="205.50" y2="282.50" stroke="#333" stroke-width="1.0"/>
<circle cx="169.25" cy="303.90" r="0.94" fill="#1a1a1a"/>
<circle cx="203.00" cy="275.97" r="0.94" fill="#1a1a1a"/>
<circle cx="203.00" cy="279.03" r="0.94" fill="#1a1a1a"/>
<text transform="rotate(-90 122.25 312.80)" x="122.25" y="312.80" font-size="10" text-anchor="middle" textLength="64.00" lengthAdjust="spacingAndGlyphs">% of CD45.1+ cells</text>
<text transform="rotate(-45 163.45 368.25)" x="163.45" y="368.25" font-size="10" text-anchor="end" textLength="16.00" lengthAdjust="spacingAndGlyphs">CD4</text>
<text transform="rotate(-45 198.45 368.25)" x="198.45" y="368.25" font-size="10" text-anchor="end" textLength="16.00" lengthAdjust="spacingAndGlyphs">CD8</text>
<text x="226.00" y="264.20" font-size="12" textLength="7.44" lengthAdjust="spacingAndGlyphs" font-weight="bold">E</text>
<line x1="257.50" y1="276.30" x2="257.50" y2="359.35" stroke="#1a1a1a" stroke-width="1.3"/>
<line x1="254.50" y1="358.70" x2="257.50" y2="358.70" stroke="#1a1a1a" stroke-width="1.3"/>
<text x="251.50" y="361.58" font-size="9.3" text-anchor="end" textLength="10.34" lengthAdjust="spacingAndGlyphs">0.0</text>
<line x1="254.50" y1="339.55" x2="257.50" y2="339.55" stroke="#1a1a1a" stroke-width="1.3"/>
<text x="251.50" y="342.43" font-size="9.3" text-anchor="end" textLength="10.34" lengthAdjust="spacingAndGlyphs">0.3</text>
<line x1="254.50" y1="318.50" x2="257.50" y2="318.50" stroke="#1a1a1a" stroke-width="1.3"/>
<text x="251.50" y="321.38" font-size="9.3" text-anchor="end" textLength="10.34" lengthAdjust="spacingAndGlyphs">0.6</text>
<line x1="254.50" y1="296.50" x2="257.50" y2="296.50" stroke="#1a1a1a" stroke-width="1.3"/>
<text x="251.50" y="299.38" font-size="9.3" text-anchor="end" textLength="10.34" lengthAdjust="spacingAndGlyphs">0.9</text>
<line x1="254.50" y1="276.80" x2="257.50" y2="276.80" stroke="#1a1a1a" stroke-width="1.3"/>
<text x="251.50" y="279.68" font-size="9.3" text-anchor="end" textLength="10.34" lengthAdjust="spacingAndGlyphs">1.2</text>
<line x1="256.90" y1="358.75" x2="318.75" y2="358.75" stroke="#1a1a1a" stroke-width="1.3"/>
<line x1="263.75" y1="358.75" x2="263.75" y2="361.75" stroke="#1a1a1a" stroke-width="1.3"/>
<line x1="276.25" y1="358.75" x2="276.25" y2="361.75" stroke="#1a1a1a" stroke-width="1.3"/>
<line x1="288.75" y1="358.75" x2="288.75" y2="361.75" stroke="#1a1a1a" stroke-width="1.3"/>
<line x1="301.25" y1="358.75" x2="301.25" y2="361.75" stroke="#1a1a1a" stroke-width="1.3"/>
<line x1="313.75" y1="358.75" x2="313.75" y2="361.75" stroke="#1a1a1a" stroke-width="1.3"/>
<rect x="259.80" y="291.90" width="8.00" height="66.85" fill="#c51433"/>
<rect x="272.40" y="315.20" width="8.00" height="43.55" fill="#c51433"/>
<line x1="276.40" y1="311.60" x2="276.40" y2="315.20" stroke="#333" stroke-width="1.0"/>
<line x1="274.40" y1="311.60" x2="278.40" y2="311.60" stroke="#333" stroke-width="1.0"/>
<rect x="284.60" y="335.20" width="8.00" height="23.55" fill="#c51433"/>
<line x1="288.60" y1="331.80" x2="288.60" y2="335.20" stroke="#333" stroke-width="1.0"/>
<line x1="286.60" y1="331.80" x2="290.60" y2="331.80" stroke="#333" stroke-width="1.0"/>
<rect x="297.30" y="324.50" width="8.00" height="34.25" fill="#c51433"/>
<line x1="301.30" y1="318.80" x2="301.30" y2="324.50" stroke="#333" stroke-width="1.0"/>
<line x1="299.30" y1="318.80" x2="303.30" y2="318.80" stroke="#333" stroke-width="1.0"/>
<rect x="309.90" y="339.60" width="8.00" height="19.15" fill="#c51433"/>
<line x1="313.90" y1="332.30" x2="313.90" y2="339.60" stroke="#333" stroke-width="1.0"/>
<line x1="311.90" y1="332.30" x2="315.90" y2="332.30" stroke="#333" stroke-width="1.0"/>
<text x="261.30" y="280.30" font-size="8.5" textLength="12.50" lengthAdjust="spacingAndGlyphs">n=3</text>
<polyline points="263.30,289.50 263.30,287.30 293.30,287.30 293.30,295.70" fill="none" stroke="#1a1a1a" stroke-width="1.1" stroke-linejoin="miter" stroke-linecap="butt"/>
<line x1="277.10" y1="295.70" x2="311.80" y2="295.70" stroke="#1a1a1a" stroke-width="1.1"/>
<circle cx="276.98" cy="283.30" r="0.99" fill="#1a1a1a"/>
<circle cx="280.22" cy="283.30" r="0.99" fill="#1a1a1a"/>
<polyline points="276.00,308.70 276.00,303.60 288.70,303.60 288.70,322.00" fill="none" stroke="#1a1a1a" stroke-width="1.1" stroke-linejoin="miter" stroke-linecap="butt"/>
<circle cx="280.88" cy="300.00" r="0.99" fill="#1a1a1a"/>
<circle cx="284.12" cy="300.00" r="0.99" fill="#1a1a1a"/>
<polyline points="301.20,313.00 301.20,308.20 313.90,308.20 313.90,322.70" fill="none" stroke="#1a1a1a" stroke-width="1.1" stroke-linejoin="miter" stroke-linecap="butt"/>
<circle cx="307.70" cy="304.60" r="0.99" fill="#1a1a1a"/>
<text transform="rotate(-90 235.08 317.60)" x="235.08" y="317.60" font-size="10.5" text-anchor="middle" textLength="89.00" lengthAdjust="spacingAndGlyphs">Relative live leukemia cells</text>
<text x="251.25" y="371.00" font-size="8.6" text-anchor="end" textLength="22.00" lengthAdjust="spacingAndGlyphs">Target</text>
<text x="251.25" y="381.30" font-size="8.6" text-anchor="end" textLength="45.00" lengthAdjust="spacingAndGlyphs">Effector (Veh)</text>
<text x="251.25" y="390.90" font-size="8.6" text-anchor="end" textLength="48.75" lengthAdjust="spacingAndGlyphs">Effector (Com)</text>
<text x="263.75" y="371.00" font-size="9" text-anchor="middle" textLength="4.25" lengthAdjust="spacingAndGlyphs">1</text>
<text x="263.75" y="381.50" font-size="9" text-anchor="middle" textLength="4.25" lengthAdjust="spacingAndGlyphs">–</text>
<text x="263.75" y="391.00" font-size="9" text-anchor="middle" textLength="4.25" lengthAdjust="spacingAndGlyphs">–</text>
<text x="276.25" y="371.00" font-size="9" text-anchor="middle" textLength="4.25" lengthAdjust="spacingAndGlyphs">1</text>
<text x="276.25" y="381.50" font-size="9" text-anchor="middle" textLength="4.25" lengthAdjust="spacingAndGlyphs">5</text>
<text x="276.25" y="391.00" font-size="9" text-anchor="middle" textLength="4.25" lengthAdjust="spacingAndGlyphs">–</text>
<text x="288.75" y="371.00" font-size="9" text-anchor="middle" textLength="4.25" lengthAdjust="spacingAndGlyphs">1</text>
<text x="288.75" y="381.50" font-size="9" text-anchor="middle" textLength="4.25" lengthAdjust="spacingAndGlyphs">–</text>
<text x="288.75" y="391.00" font-size="9" text-anchor="middle" textLength="4.25" lengthAdjust="spacingAndGlyphs">5</text>
<text x="301.25" y="371.00" font-size="9" text-anchor="middle" textLength="4.25" lengthAdjust="spacingAndGlyphs">1</text>
<text x="301.25" y="381.50" font-size="9" text-anchor="middle" textLength="8.51" lengthAdjust="spacingAndGlyphs">10</text>
<text x="301.25" y="391.00" font-size="9" text-anchor="middle" textLength="4.25" lengthAdjust="spacingAndGlyphs">–</text>
<text x="313.75" y="371.00" font-size="9" text-anchor="middle" textLength="4.25" lengthAdjust="spacingAndGlyphs">1</text>
<text x="313.75" y="381.50" font-size="9" text-anchor="middle" textLength="4.25" lengthAdjust="spacingAndGlyphs">–</text>
<text x="313.75" y="391.00" font-size="9" text-anchor="middle" textLength="8.51" lengthAdjust="spacingAndGlyphs">10</text>
<text x="325.00" y="264.20" font-size="12" textLength="6.82" lengthAdjust="spacingAndGlyphs" font-weight="bold">F</text>
<line x1="355.40" y1="266.50" x2="355.40" y2="359.35" stroke="#1a1a1a" stroke-width="1.3"/>
<line x1="352.40" y1="358.75" x2="355.40" y2="358.75" stroke="#1a1a1a" stroke-width="1.3"/>
<text x="348.90" y="361.63" font-size="9.3" text-anchor="end" textLength="11.63" lengthAdjust="spacingAndGlyphs">0.0</text>
<line x1="352.40" y1="335.81" x2="355.40" y2="335.81" stroke="#1a1a1a" stroke-width="1.3"/>
<text x="348.90" y="338.70" font-size="9.3" text-anchor="end" textLength="11.63" lengthAdjust="spacingAndGlyphs">0.3</text>
<line x1="352.40" y1="312.88" x2="355.40" y2="312.88" stroke="#1a1a1a" stroke-width="1.3"/>
<text x="348.90" y="315.76" font-size="9.3" text-anchor="end" textLength="11.63" lengthAdjust="spacingAndGlyphs">0.6</text>
<line x1="352.40" y1="289.94" x2="355.40" y2="289.94" stroke="#1a1a1a" stroke-width="1.3"/>
<text x="348.90" y="292.82" font-size="9.3" text-anchor="end" textLength="11.63" lengthAdjust="spacingAndGlyphs">0.9</text>
<line x1="352.40" y1="267.00" x2="355.40" y2="267.00" stroke="#1a1a1a" stroke-width="1.3"/>
<text x="348.90" y="269.88" font-size="9.3" text-anchor="end" textLength="11.63" lengthAdjust="spacingAndGlyphs">1.2</text>
<line x1="354.80" y1="358.75" x2="513.30" y2="358.75" stroke="#1a1a1a" stroke-width="1.3"/>
<line x1="366.90" y1="358.75" x2="366.90" y2="361.75" stroke="#1a1a1a" stroke-width="1.3"/>
<line x1="389.30" y1="358.75" x2="389.30" y2="361.75" stroke="#1a1a1a" stroke-width="1.3"/>
<line x1="411.70" y1="358.75" x2="411.70" y2="361.75" stroke="#1a1a1a" stroke-width="1.3"/>
<line x1="434.10" y1="358.75" x2="434.10" y2="361.75" stroke="#1a1a1a" stroke-width="1.3"/>
<line x1="456.50" y1="358.75" x2="456.50" y2="361.75" stroke="#1a1a1a" stroke-width="1.3"/>
<line x1="478.90" y1="358.75" x2="478.90" y2="361.75" stroke="#1a1a1a" stroke-width="1.3"/>
<line x1="501.30" y1="358.75" x2="501.30" y2="361.75" stroke="#1a1a1a" stroke-width="1.3"/>
<rect x="360.00" y="282.70" width="5.50" height="76.05" fill="#c51433"/>
<line x1="362.75" y1="281.75" x2="362.75" y2="282.70" stroke="#333" stroke-width="1.0"/>
<line x1="361.38" y1="281.75" x2="364.12" y2="281.75" stroke="#333" stroke-width="1.0"/>
<rect x="368.40" y="350.00" width="5.50" height="8.75" fill="#1a5289"/>
<line x1="371.15" y1="344.50" x2="371.15" y2="350.00" stroke="#333" stroke-width="1.0"/>
<line x1="369.77" y1="344.50" x2="372.52" y2="344.50" stroke="#333" stroke-width="1.0"/>
<circle cx="371.15" cy="334.10" r="1.10" fill="#1a1a1a"/>
<circle cx="371.15" cy="337.70" r="1.10" fill="#1a1a1a"/>
<circle cx="371.15" cy="341.30" r="1.10" fill="#1a1a1a"/>
<text transform="rotate(-45 369.40 368.75)" x="369.40" y="368.75" font-size="10" text-anchor="end" textLength="13.67" lengthAdjust="spacingAndGlyphs">Fas</text>
<rect x="382.40" y="282.70" width="5.50" height="76.05" fill="#c51433"/>
<line x1="385.15" y1="282.00" x2="385.15" y2="282.70" stroke="#333" stroke-width="1.0"/>
<line x1="383.77" y1="282.00" x2="386.52" y2="282.00" stroke="#333" stroke-width="1.0"/>
<rect x="390.80" y="345.50" width="5.50" height="13.25" fill="#1a5289"/>
<line x1="393.55" y1="333.75" x2="393.55" y2="345.50" stroke="#333" stroke-width="1.0"/>
<line x1="392.17" y1="333.75" x2="394.92" y2="333.75" stroke="#333" stroke-width="1.0"/>
<circle cx="393.55" cy="323.35" r="1.10" fill="#1a1a1a"/>
<circle cx="393.55" cy="326.95" r="1.10" fill="#1a1a1a"/>
<circle cx="393.55" cy="330.55" r="1.10" fill="#1a1a1a"/>
<text transform="rotate(-45 391.80 368.75)" x="391.80" y="368.75" font-size="10" text-anchor="end" textLength="18.23" lengthAdjust="spacingAndGlyphs">Fosb</text>
<rect x="404.80" y="282.70" width="5.50" height="76.05" fill="#c51433"/>
<line x1="407.55" y1="273.25" x2="407.55" y2="282.70" stroke="#333" stroke-width="1.0"/>
<line x1="406.18" y1="273.25" x2="408.93" y2="273.25" stroke="#333" stroke-width="1.0"/>
<rect x="413.20" y="321.75" width="5.50" height="37.00" fill="#1a5289"/>
<line x1="415.95" y1="304.25" x2="415.95" y2="321.75" stroke="#333" stroke-width="1.0"/>
<line x1="414.57" y1="304.25" x2="417.32" y2="304.25" stroke="#333" stroke-width="1.0"/>
<circle cx="415.95" cy="297.45" r="1.10" fill="#1a1a1a"/>
<circle cx="415.95" cy="301.05" r="1.10" fill="#1a1a1a"/>
<text transform="rotate(-45 414.20 368.75)" x="414.20" y="368.75" font-size="10" text-anchor="end" textLength="13.22" lengthAdjust="spacingAndGlyphs">Jun</text>
<rect x="427.20" y="282.70" width="5.50" height="76.05" fill="#c51433"/>
<line x1="429.95" y1="281.50" x2="429.95" y2="282.70" stroke="#333" stroke-width="1.0"/>
<line x1="428.57" y1="281.50" x2="431.32" y2="281.50" stroke="#333" stroke-width="1.0"/>
<rect x="435.60" y="346.25" width="5.50" height="12.50" fill="#1a5289"/>
<line x1="438.35" y1="341.25" x2="438.35" y2="346.25" stroke="#333" stroke-width="1.0"/>
<line x1="436.97" y1="341.25" x2="439.72" y2="341.25" stroke="#333" stroke-width="1.0"/>
<circle cx="438.35" cy="330.85" r="1.10" fill="#1a1a1a"/>
<circle cx="438.35" cy="334.45" r="1.10" fill="#1a1a1a"/>
<circle cx="438.35" cy="338.05" r="1.10" fill="#1a1a1a"/>
<text transform="rotate(-45 436.60 368.75)" x="436.60" y="368.75" font-size="10" text-anchor="end" textLength="17.78" lengthAdjust="spacingAndGlyphs">Junb</text>
<rect x="449.60" y="282.70" width="5.50" height="76.05" fill="#c51433"/>
<line x1="452.35" y1="280.40" x2="452.35" y2="282.70" stroke="#333" stroke-width="1.0"/>
<line x1="450.98" y1="280.40" x2="453.73" y2="280.40" stroke="#333" stroke-width="1.0"/>
<rect x="458.00" y="351.60" width="5.50" height="7.15" fill="#1a5289"/>
<line x1="460.75" y1="347.60" x2="460.75" y2="351.60" stroke="#333" stroke-width="1.0"/>
<line x1="459.38" y1="347.60" x2="462.12" y2="347.60" stroke="#333" stroke-width="1.0"/>
<circle cx="460.75" cy="337.20" r="1.10" fill="#1a1a1a"/>
<circle cx="460.75" cy="340.80" r="1.10" fill="#1a1a1a"/>
<circle cx="460.75" cy="344.40" r="1.10" fill="#1a1a1a"/>
<text transform="rotate(-45 459.00 368.75)" x="459.00" y="368.75" font-size="10" text-anchor="end" textLength="17.78" lengthAdjust="spacingAndGlyphs">Jund</text>
<rect x="472.00" y="282.70" width="5.50" height="76.05" fill="#c51433"/>
<line x1="474.75" y1="276.90" x2="474.75" y2="282.70" stroke="#333" stroke-width="1.0"/>
<line x1="473.38" y1="276.90" x2="476.12" y2="276.90" stroke="#333" stroke-width="1.0"/>
<rect x="480.40" y="323.00" width="5.50" height="35.75" fill="#1a5289"/>
<line x1="483.15" y1="302.30" x2="483.15" y2="323.00" stroke="#333" stroke-width="1.0"/>
<line x1="481.77" y1="302.30" x2="484.52" y2="302.30" stroke="#333" stroke-width="1.0"/>
<circle cx="483.15" cy="295.50" r="1.10" fill="#1a1a1a"/>
<circle cx="483.15" cy="299.10" r="1.10" fill="#1a1a1a"/>
<text transform="rotate(-45 481.40 368.75)" x="481.40" y="368.75" font-size="10" text-anchor="end" textLength="14.59" lengthAdjust="spacingAndGlyphs">Atf3</text>
<rect x="494.40" y="282.70" width="5.50" height="76.05" fill="#c51433"/>
<line x1="497.15" y1="279.40" x2="497.15" y2="282.70" stroke="#333" stroke-width="1.0"/>
<line x1="495.77" y1="279.40" x2="498.52" y2="279.40" stroke="#333" stroke-width="1.0"/>
<rect x="502.80" y="309.70" width="5.50" height="49.05" fill="#1a5289"/>
<line x1="505.55" y1="301.00" x2="505.55" y2="309.70" stroke="#333" stroke-width="1.0"/>
<line x1="504.17" y1="301.00" x2="506.92" y2="301.00" stroke="#333" stroke-width="1.0"/>
<circle cx="505.55" cy="294.20" r="1.10" fill="#1a1a1a"/>
<circle cx="505.55" cy="297.80" r="1.10" fill="#1a1a1a"/>
<text transform="rotate(-45 503.80 368.75)" x="503.80" y="368.75" font-size="10" text-anchor="end" textLength="13.67" lengthAdjust="spacingAndGlyphs">Flt3</text>
<rect x="357.50" y="262.00" width="3.75" height="3.50" fill="#c51433"/>
<rect x="357.50" y="269.50" width="3.75" height="3.75" fill="#1a5289"/>
<text x="364.50" y="267.20" font-size="8.4" textLength="41.75" lengthAdjust="spacingAndGlyphs">Vehicle, n=4</text>
<text x="364.50" y="274.70" font-size="8.4" textLength="41.75" lengthAdjust="spacingAndGlyphs">Combo, n=4</text>
<text transform="rotate(-90 332.83 315.00)" x="332.83" y="315.00" font-size="10.5" text-anchor="middle" textLength="87.00" lengthAdjust="spacingAndGlyphs">Relative mRNA expression</text>
<text x="6.50" y="412.40" font-size="12" textLength="8.68" lengthAdjust="spacingAndGlyphs" font-weight="bold">G</text>
<line x1="38.00" y1="430.50" x2="38.00" y2="518.10" stroke="#1a1a1a" stroke-width="1.3"/>
<line x1="35.00" y1="438.00" x2="38.00" y2="438.00" stroke="#1a1a1a" stroke-width="1.3"/>
<text x="32.00" y="440.90" font-size="9.3" text-anchor="end" textLength="13.19" lengthAdjust="spacingAndGlyphs">100</text>
<line x1="35.00" y1="477.75" x2="38.00" y2="477.75" stroke="#1a1a1a" stroke-width="1.3"/>
<text x="32.00" y="480.65" font-size="9.3" text-anchor="end" textLength="8.79" lengthAdjust="spacingAndGlyphs">50</text>
<line x1="35.00" y1="517.50" x2="38.00" y2="517.50" stroke="#1a1a1a" stroke-width="1.3"/>
<text x="32.00" y="520.40" font-size="9.3" text-anchor="end" textLength="4.40" lengthAdjust="spacingAndGlyphs">0</text>
<line x1="37.40" y1="517.50" x2="169.25" y2="517.50" stroke="#1a1a1a" stroke-width="1.3"/>
<line x1="38.30" y1="517.50" x2="38.30" y2="520.50" stroke="#1a1a1a" stroke-width="1.3"/>
<text x="38.30" y="530.60" font-size="9.3" text-anchor="middle" textLength="4.40" lengthAdjust="spacingAndGlyphs">0</text>
<line x1="64.50" y1="517.50" x2="64.50" y2="520.50" stroke="#1a1a1a" stroke-width="1.3"/>
<text x="64.50" y="530.60" font-size="9.3" text-anchor="middle" textLength="8.79" lengthAdjust="spacingAndGlyphs">20</text>
<line x1="90.70" y1="517.50" x2="90.70" y2="520.50" stroke="#1a1a1a" stroke-width="1.3"/>
<text x="90.70" y="530.60" font-size="9.3" text-anchor="middle" textLength="8.79" lengthAdjust="spacingAndGlyphs">40</text>
<line x1="116.90" y1="517.50" x2="116.90" y2="520.50" stroke="#1a1a1a" stroke-width="1.3"/>
<text x="116.90" y="530.60" font-size="9.3" text-anchor="middle" textLength="8.79" lengthAdjust="spacingAndGlyphs">60</text>
<line x1="143.10" y1="517.50" x2="143.10" y2="520.50" stroke="#1a1a1a" stroke-width="1.3"/>
<text x="143.10" y="530.60" font-size="9.3" text-anchor="middle" textLength="8.79" lengthAdjust="spacingAndGlyphs">80</text>
<line x1="169.30" y1="517.50" x2="169.30" y2="520.50" stroke="#1a1a1a" stroke-width="1.3"/>
<text x="169.30" y="530.60" font-size="9.3" text-anchor="middle" textLength="13.19" lengthAdjust="spacingAndGlyphs">100</text>
<text x="61.25" y="543.60" font-size="10.2" textLength="85.00" lengthAdjust="spacingAndGlyphs">Days after transplantation</text>
<text transform="rotate(-90 14.52 478.40)" x="14.52" y="478.40" font-size="10.2" text-anchor="middle" textLength="53.00" lengthAdjust="spacingAndGlyphs">Percent survival</text>
<polyline points="38.00,438.00 131.25,438.00 131.25,453.75 135.50,453.75 135.50,485.50 140.50,485.50 140.50,501.25 145.75,501.25 145.75,517.50" fill="none" stroke="#5e2b80" stroke-width="1.3" stroke-linejoin="miter" stroke-linecap="butt"/>
<polyline points="38.00,438.00 83.25,438.00 83.25,471.75 85.00,471.75 85.00,488.00 92.50,488.00 92.50,505.50 93.25,505.50 93.25,517.50" fill="none" stroke="#c51433" stroke-width="1.6" stroke-linejoin="miter" stroke-linecap="butt"/>
<line x1="53.75" y1="442.50" x2="53.75" y2="451.25" stroke="#c51433" stroke-width="1.0"/>
<path d="M51.15,444.10 L53.75,439.50 L56.35,444.10 Z" fill="#c51433"/>
<text x="42.00" y="460.30" font-size="8.8" textLength="35.00" lengthAdjust="spacingAndGlyphs">Treatment</text>
<line x1="43.00" y1="418.75" x2="51.75" y2="418.75" stroke="#c51433" stroke-width="1.4"/>
<line x1="47.38" y1="417.25" x2="47.38" y2="418.75" stroke="#c51433" stroke-width="1.0"/>
<line x1="43.00" y1="429.50" x2="51.75" y2="429.50" stroke="#5e2b80" stroke-width="1.4"/>
<line x1="47.38" y1="428.00" x2="47.38" y2="429.50" stroke="#5e2b80" stroke-width="1.0"/>
<text x="55.00" y="421.90" font-size="8.8" textLength="24.50" lengthAdjust="spacingAndGlyphs">Vehicle</text>
<text x="55.00" y="432.80" font-size="8.8" textLength="30.00" lengthAdjust="spacingAndGlyphs">Tra+GSK</text>
<polyline points="87.50,418.75 92.00,418.75 92.00,429.50 87.50,429.50" fill="none" stroke="#1a1a1a" stroke-width="1.1" stroke-linejoin="miter" stroke-linecap="butt"/>
<circle cx="95.75" cy="422.13" r="1.26" fill="#1a1a1a"/>
<circle cx="95.75" cy="426.27" r="1.26" fill="#1a1a1a"/>
<text x="100.00" y="427.60" font-size="8.8" textLength="28.75" lengthAdjust="spacingAndGlyphs">Donor-1</text>
<text x="185.75" y="412.40" font-size="12" textLength="8.06" lengthAdjust="spacingAndGlyphs" font-weight="bold">H</text>
<line x1="218.50" y1="445.75" x2="218.50" y2="517.85" stroke="#1a1a1a" stroke-width="1.3"/>
<line x1="215.50" y1="451.50" x2="218.50" y2="451.50" stroke="#1a1a1a" stroke-width="1.3"/>
<text x="212.50" y="454.40" font-size="9.3" text-anchor="end" textLength="13.19" lengthAdjust="spacingAndGlyphs">100</text>
<line x1="215.50" y1="484.50" x2="218.50" y2="484.50" stroke="#1a1a1a" stroke-width="1.3"/>
<text x="212.50" y="487.40" font-size="9.3" text-anchor="end" textLength="8.79" lengthAdjust="spacingAndGlyphs">50</text>
<line x1="215.50" y1="517.25" x2="218.50" y2="517.25" stroke="#1a1a1a" stroke-width="1.3"/>
<text x="212.50" y="520.15" font-size="9.3" text-anchor="end" textLength="4.40" lengthAdjust="spacingAndGlyphs">0</text>
<line x1="217.90" y1="517.25" x2="327.50" y2="517.25" stroke="#1a1a1a" stroke-width="1.3"/>
<line x1="218.50" y1="517.25" x2="218.50" y2="520.25" stroke="#1a1a1a" stroke-width="1.3"/>
<text x="218.50" y="530.60" font-size="9.3" text-anchor="middle" textLength="4.40" lengthAdjust="spacingAndGlyphs">0</text>
<line x1="254.50" y1="517.25" x2="254.50" y2="520.25" stroke="#1a1a1a" stroke-width="1.3"/>
<text x="254.50" y="530.60" font-size="9.3" text-anchor="middle" textLength="8.79" lengthAdjust="spacingAndGlyphs">20</text>
<line x1="290.50" y1="517.25" x2="290.50" y2="520.25" stroke="#1a1a1a" stroke-width="1.3"/>
<text x="290.50" y="530.60" font-size="9.3" text-anchor="middle" textLength="8.79" lengthAdjust="spacingAndGlyphs">40</text>
<line x1="326.50" y1="517.25" x2="326.50" y2="520.25" stroke="#1a1a1a" stroke-width="1.3"/>
<text x="326.50" y="530.60" font-size="9.3" text-anchor="middle" textLength="8.79" lengthAdjust="spacingAndGlyphs">60</text>
<text x="231.25" y="543.60" font-size="10.2" textLength="85.00" lengthAdjust="spacingAndGlyphs">Days after transplantation</text>
<text transform="rotate(-90 194.42 481.50)" x="194.42" y="481.50" font-size="10.2" text-anchor="middle" textLength="52.00" lengthAdjust="spacingAndGlyphs">Percent survival</text>
<polyline points="218.50,451.50 268.75,451.50 268.75,478.00 275.00,478.00 275.00,491.25 276.25,491.25 276.25,517.25" fill="none" stroke="#1d5290" stroke-width="1.3" stroke-linejoin="miter" stroke-linecap="butt"/>
<polyline points="218.50,451.50 276.25,451.50 276.25,464.50 278.00,464.50 278.00,478.00 281.75,478.00 281.75,504.25 289.25,504.25 289.25,517.25" fill="none" stroke="#3cb44a" stroke-width="1.3" stroke-linejoin="miter" stroke-linecap="butt"/>
<polyline points="218.50,451.50 289.50,451.50 289.50,464.50 291.25,464.50 291.25,478.00 300.50,478.00 300.50,491.25 312.50,491.25 312.50,504.25 320.00,504.25 320.00,517.25" fill="none" stroke="#5e2b80" stroke-width="1.3" stroke-linejoin="miter" stroke-linecap="butt"/>
<polyline points="218.50,451.50 258.50,451.50 258.50,478.00 262.30,478.00 262.30,491.25 263.60,491.25 263.60,504.25 267.50,504.25 267.50,517.25" fill="none" stroke="#c51433" stroke-width="1.4" stroke-linejoin="miter" stroke-linecap="butt"/>
<line x1="239.50" y1="455.50" x2="239.50" y2="463.25" stroke="#c51433" stroke-width="1.0"/>
<path d="M236.90,457.10 L239.50,452.50 L242.10,457.10 Z" fill="#c51433"/>
<text x="221.25" y="473.30" font-size="8.8" textLength="35.00" lengthAdjust="spacingAndGlyphs">Treatment</text>
<line x1="222.00" y1="419.50" x2="230.00" y2="419.50" stroke="#c51433" stroke-width="1.4"/>
<line x1="226.00" y1="418.00" x2="226.00" y2="419.50" stroke="#c51433" stroke-width="1.0"/>
<text x="232.50" y="422.50" font-size="8.8" textLength="24.00" lengthAdjust="spacingAndGlyphs">Vehicle</text>
<line x1="222.00" y1="428.25" x2="230.00" y2="428.25" stroke="#1d5290" stroke-width="1.4"/>
<line x1="226.00" y1="426.75" x2="226.00" y2="428.25" stroke="#1d5290" stroke-width="1.0"/>
<text x="232.50" y="431.25" font-size="8.8" textLength="10.50" lengthAdjust="spacingAndGlyphs">Tra</text>
<line x1="222.00" y1="438.25" x2="230.00" y2="438.25" stroke="#3cb44a" stroke-width="1.4"/>
<line x1="226.00" y1="436.75" x2="226.00" y2="438.25" stroke="#3cb44a" stroke-width="1.0"/>
<text x="232.50" y="441.25" font-size="8.8" textLength="14.00" lengthAdjust="spacingAndGlyphs">GSK</text>
<line x1="222.00" y1="446.50" x2="230.00" y2="446.50" stroke="#5e2b80" stroke-width="1.4"/>
<line x1="226.00" y1="445.00" x2="226.00" y2="446.50" stroke="#5e2b80" stroke-width="1.0"/>
<text x="232.50" y="449.50" font-size="8.8" textLength="29.50" lengthAdjust="spacingAndGlyphs">Tra+GSK</text>
<polyline points="259.40,419.20 262.40,419.20 262.40,429.90 256.70,429.90" fill="none" stroke="#1a1a1a" stroke-width="1.1" stroke-linejoin="miter" stroke-linecap="butt"/>
<circle cx="266.40" cy="422.18" r="1.26" fill="#1a1a1a"/>
<circle cx="266.40" cy="426.32" r="1.26" fill="#1a1a1a"/>
<polyline points="261.80,438.70 267.50,438.70 267.50,446.30 263.50,446.30" fill="none" stroke="#1a1a1a" stroke-width="1.1" stroke-linejoin="miter" stroke-linecap="butt"/>
<circle cx="271.50" cy="441.08" r="1.26" fill="#1a1a1a"/>
<circle cx="271.50" cy="445.22" r="1.26" fill="#1a1a1a"/>
<line x1="271.50" y1="419.20" x2="271.50" y2="428.60" stroke="#1a1a1a" stroke-width="1.1"/>
<polyline points="271.50,423.10 280.30,423.10 280.30,442.70 277.00,442.70" fill="none" stroke="#1a1a1a" stroke-width="1.1" stroke-linejoin="miter" stroke-linecap="butt"/>
<line x1="277.00" y1="437.60" x2="277.00" y2="447.00" stroke="#1a1a1a" stroke-width="1.1"/>
<circle cx="284.30" cy="431.13" r="1.26" fill="#1a1a1a"/>
<circle cx="284.30" cy="435.27" r="1.26" fill="#1a1a1a"/>
<text x="289.00" y="436.30" font-size="8.8" textLength="28.30" lengthAdjust="spacingAndGlyphs">Donor-2</text>
<text x="340.50" y="412.40" font-size="12" textLength="3.10" lengthAdjust="spacingAndGlyphs" font-weight="bold">I</text>
<line x1="373.75" y1="430.50" x2="373.75" y2="518.10" stroke="#1a1a1a" stroke-width="1.3"/>
<line x1="370.75" y1="436.25" x2="373.75" y2="436.25" stroke="#1a1a1a" stroke-width="1.3"/>
<text x="367.75" y="439.15" font-size="9.3" text-anchor="end" textLength="13.19" lengthAdjust="spacingAndGlyphs">100</text>
<line x1="370.75" y1="476.75" x2="373.75" y2="476.75" stroke="#1a1a1a" stroke-width="1.3"/>
<text x="367.75" y="479.65" font-size="9.3" text-anchor="end" textLength="8.79" lengthAdjust="spacingAndGlyphs">50</text>
<line x1="370.75" y1="517.50" x2="373.75" y2="517.50" stroke="#1a1a1a" stroke-width="1.3"/>
<text x="367.75" y="520.40" font-size="9.3" text-anchor="end" textLength="4.40" lengthAdjust="spacingAndGlyphs">0</text>
<line x1="373.15" y1="517.50" x2="507.50" y2="517.50" stroke="#1a1a1a" stroke-width="1.3"/>
<line x1="373.75" y1="517.50" x2="373.75" y2="520.50" stroke="#1a1a1a" stroke-width="1.3"/>
<text x="373.75" y="530.60" font-size="9.3" text-anchor="middle" textLength="4.40" lengthAdjust="spacingAndGlyphs">0</text>
<line x1="407.20" y1="517.50" x2="407.20" y2="520.50" stroke="#1a1a1a" stroke-width="1.3"/>
<text x="407.20" y="530.60" font-size="9.3" text-anchor="middle" textLength="8.79" lengthAdjust="spacingAndGlyphs">10</text>
<line x1="440.65" y1="517.50" x2="440.65" y2="520.50" stroke="#1a1a1a" stroke-width="1.3"/>
<text x="440.65" y="530.60" font-size="9.3" text-anchor="middle" textLength="8.79" lengthAdjust="spacingAndGlyphs">20</text>
<line x1="474.10" y1="517.50" x2="474.10" y2="520.50" stroke="#1a1a1a" stroke-width="1.3"/>
<text x="474.10" y="530.60" font-size="9.3" text-anchor="middle" textLength="8.79" lengthAdjust="spacingAndGlyphs">30</text>
<line x1="507.55" y1="517.50" x2="507.55" y2="520.50" stroke="#1a1a1a" stroke-width="1.3"/>
<text x="507.55" y="530.60" font-size="9.3" text-anchor="middle" textLength="8.79" lengthAdjust="spacingAndGlyphs">40</text>
<text x="398.75" y="543.60" font-size="10.2" textLength="84.25" lengthAdjust="spacingAndGlyphs">Days after transplantation</text>
<text transform="rotate(-90 349.82 473.00)" x="349.82" y="473.00" font-size="10.2" text-anchor="middle" textLength="52.50" lengthAdjust="spacingAndGlyphs">Percent survival</text>
<polyline points="373.75,436.25 487.50,436.25 487.50,456.75 494.25,456.75 494.25,517.50" fill="none" stroke="#5e2b80" stroke-width="1.3" stroke-linejoin="miter" stroke-linecap="butt"/>
<polyline points="373.75,436.25 460.75,436.25 460.75,456.75 481.25,456.75 481.25,517.50" fill="none" stroke="#c51433" stroke-width="1.6" stroke-linejoin="miter" stroke-linecap="butt"/>
<line x1="389.50" y1="440.50" x2="389.50" y2="448.00" stroke="#c51433" stroke-width="1.0"/>
<path d="M386.90,442.10 L389.50,437.50 L392.10,442.10 Z" fill="#c51433"/>
<text x="377.50" y="456.00" font-size="8.8" textLength="35.00" lengthAdjust="spacingAndGlyphs">Treatment</text>
<line x1="381.75" y1="465.50" x2="391.20" y2="465.50" stroke="#c51433" stroke-width="1.6"/>
<line x1="386.48" y1="464.00" x2="386.48" y2="465.50" stroke="#c51433" stroke-width="1.0"/>
<line x1="381.75" y1="476.75" x2="391.20" y2="476.75" stroke="#5e2b80" stroke-width="1.6"/>
<line x1="386.48" y1="475.25" x2="386.48" y2="476.75" stroke="#5e2b80" stroke-width="1.0"/>
<text x="393.80" y="468.50" font-size="8.8" textLength="24.50" lengthAdjust="spacingAndGlyphs">Vehicle</text>
<text x="393.80" y="479.80" font-size="8.8" textLength="31.00" lengthAdjust="spacingAndGlyphs">Tra+GSK</text>
<text x="381.25" y="490.6" font-size="8.8" textLength="25" lengthAdjust="spacingAndGlyphs"><tspan font-style="italic">p</tspan>=0.01</text>
<rect x="0.5" y="0.5" width="519" height="549" fill="none" stroke="#000" stroke-width="1.2"/>
</svg>
</body></html>
